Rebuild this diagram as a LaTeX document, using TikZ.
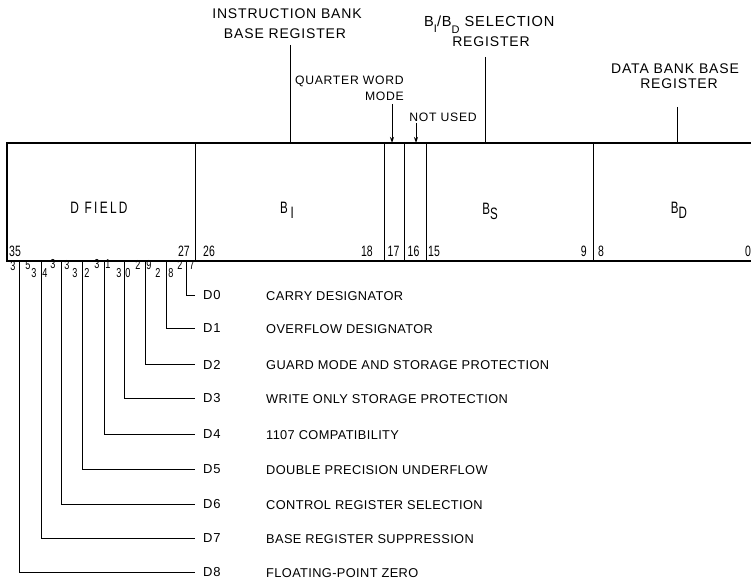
\documentclass[tikz,border=0pt]{standalone}
\usepackage{fontspec}
\setmainfont{Liberation Sans}
\newfontfamily\labfont[LetterSpace=6]{Liberation Sans}
\newfontfamily\descfont[LetterSpace=3]{Liberation Sans}
\newfontfamily\cellfont[FakeStretch=0.72,LetterSpace=14]{Liberation Sans}
\newfontfamily\condfont[FakeStretch=0.70]{Liberation Sans}
\usetikzlibrary{arrows.meta}
\begin{document}
\begin{tikzpicture}[x=1pt,y=-1pt,
  lab/.style={font=\labfont\fontsize{14}{16}\selectfont,inner sep=0pt,align=center},
  smalllab/.style={font=\labfont\fontsize{12.2}{14}\selectfont,inner sep=0pt},
  cell/.style={font=\cellfont\fontsize{16.5}{18}\selectfont,inner sep=0pt},
  reg/.style={font=\condfont\fontsize{16.5}{18}\selectfont,inner sep=0pt},
  num/.style={font=\condfont\fontsize{15}{17}\selectfont,inner sep=0pt},
  bitd/.style={font=\condfont\fontsize{13}{15}\selectfont,inner sep=0pt},
  dlab/.style={font=\labfont\fontsize{13}{15}\selectfont,inner sep=0pt,anchor=west},
  desc/.style={font=\descfont\fontsize{12.8}{15}\selectfont,inner sep=0pt,anchor=west},
  thin/.style={line width=0.8pt},
  thick/.style={line width=1.8pt},
  arr/.style={line width=1pt,-{Stealth[length=6pt,width=4pt]}}]
\useasboundingbox (0,0) rectangle (751,580);
% box
\draw[thick] (760,143) -- (7,143) -- (7,261) -- (760,261);
\foreach \x in {195,384,404,426,593}{
  \draw[thin] (\x,143) -- (\x,261);
}
% cell labels
\node[cell] (dfield) at (99,208) {D FIELD};
\node[reg] (bi) at (287,210) {B\raisebox{-5pt}{\,I}};
\node[reg] (bs) at (490,211) {B\raisebox{-5pt}{S}};
\node[reg] (bd) at (679,210) {B\raisebox{-5pt}{D}};
\node[num,anchor=west] (n35) at (9,251) {35};
\node[num,anchor=east] (n27) at (190,251) {27};
\node[num,anchor=west] (n26) at (203,251) {26};
\node[num,anchor=east] (n18) at (373,251) {18};
\node[num] (n17) at (393.5,251) {17};
\node[num] (n16) at (413.5,251) {16};
\node[num,anchor=west] (n15) at (428,251) {15};
\node[num,anchor=east] (n9) at (587,251) {9};
\node[num,anchor=west] (n8) at (598,251) {8};
\node[num,anchor=west] (n0) at (745,251) {0};
% top labels
\node[lab] (ib1) at (287,14) {INSTRUCTION BANK};
\node[lab] (ib2) at (285,34) {BASE REGISTER};
\coordinate (ibt) at (290,45);
\coordinate (ibb) at (290,143);
\draw[thin] (ibt) -- (ibb);
\node[lab,font=\labfont\fontsize{14.6}{16}\selectfont,anchor=base west] (sel1) at (424,27) {B\raisebox{-6pt}{\fontsize{11}{12}\selectfont I}/B\raisebox{-7pt}{\fontsize{11}{12}\selectfont D} SELECTION};
\node[lab] (sel2) at (491,42) {REGISTER};
\coordinate (selt) at (485,57);
\coordinate (selb) at (485,143);
\draw[thin] (selt) -- (selb);
\node[smalllab,anchor=east] (qw1) at (404,81.5) {QUARTER WORD};
\node[smalllab,anchor=east] (qw2) at (404,96.5) {MODE};
\coordinate (qwt) at (392,104);
\coordinate (qwb) at (392,143);
\draw[arr] (qwt) -- (qwb);
\node[smalllab] (nu) at (443,117.5) {NOT USED};
\coordinate (nut) at (416,123);
\coordinate (nub) at (416,143);
\draw[arr] (nut) -- (nub);
\node[lab] (db1) at (675,68.5) {DATA BANK BASE};
\node[lab] (db2) at (679,83.5) {REGISTER};
\coordinate (dbt) at (677,107);
\coordinate (dbb) at (677,143);
\draw[thin] (dbt) -- (dbb);
% bit digits under D field
\foreach \x/\y/\t in {13/266/3,28/265/5,34/273/3,45/273/4,53/264/3,67/265/3,75/273/3,87/273/2,
  97/264/3,108/264/1,119/273/3,128/273/0,138/265/2,149/265/9,158/273/2,171/273/8,180/265/2,192/265/7}{
  \node[bitd] at (\x,\y) {\t};
}
% D labels and descriptions
\foreach \i/\y/\d in {0/295/CARRY DESIGNATOR,1/328/OVERFLOW DESIGNATOR,2/364/GUARD MODE AND STORAGE PROTECTION,
  3/398/WRITE ONLY STORAGE PROTECTION,4/434/1107 COMPATIBILITY,5/469/DOUBLE PRECISION UNDERFLOW,
  6/504/CONTROL REGISTER SELECTION,7/538/BASE REGISTER SUPPRESSION,8/572/FLOATING-POINT ZERO}{
  \node[dlab] (D\i) at (203,\y+0.5) {D\i};
  \node[desc] (T\i) at (266,\y+1) {\d};
}
% bit lines
\foreach \i/\x in {0/186,1/166,2/145,3/124,4/104,5/82,6/61,7/41,8/19}{
  \coordinate (b\i) at (\x,261);
  \coordinate (e\i) at (195,0);
  \draw[thin] (b\i) |- ([yshift=0.5pt]e\i |- D\i.west);
}
\end{tikzpicture}
\end{document}
